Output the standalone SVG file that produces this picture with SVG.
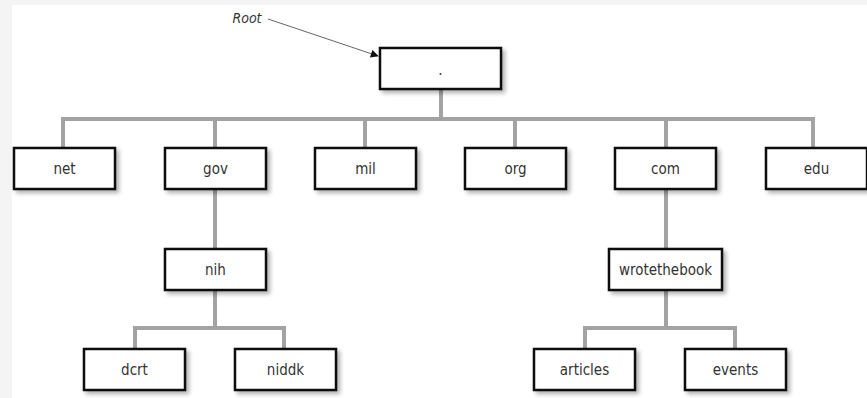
<svg xmlns="http://www.w3.org/2000/svg" width="867" height="398" viewBox="0 0 867 398">
<defs>
<filter id="sh" x="-10%" y="-20%" width="130%" height="160%">
<feGaussianBlur in="SourceAlpha" stdDeviation="2"/>
<feOffset dx="3" dy="3" result="b"/>
<feComponentTransfer><feFuncA type="linear" slope="0.3"/></feComponentTransfer>
<feMerge><feMergeNode/><feMergeNode in="SourceGraphic"/></feMerge>
</filter>
<marker id="ah" viewBox="0 0 10 10" refX="9" refY="5" markerWidth="10" markerHeight="8" markerUnits="userSpaceOnUse" orient="auto">
<path d="M0,0 L10,5 L0,10 z" fill="#111"/>
</marker>
</defs>
<style>
.box{fill:#fff;stroke:#111;stroke-width:2.5}
.lbl{font-family:"DejaVu Sans Condensed","DejaVu Sans","Liberation Sans",sans-serif;font-stretch:condensed;font-size:15px;fill:#333;text-anchor:middle}
.con{fill:none;stroke:#a3a3a3;stroke-width:4}
</style>
<rect x="0" y="0" width="867" height="398" fill="#f4f4f4"/>
<rect x="12" y="5" width="855" height="393" fill="#fff"/>
<g id="connectors">
<path class="con" d="M441,89 V119 M63,150 V119 H813 V150 M215,119 V150 M365,119 V150 M515,119 V150 M666,119 V150"/>
<path class="con" d="M215,189 V249 M215,290 V328 M135,349 V328 H284 V349"/>
<path class="con" d="M666,189 V249 M666,290 V328 M585,349 V328 H735 V349"/>
<path d="M268,19 L378,56" stroke="#666" stroke-width="1" fill="none" marker-end="url(#ah)"/>
</g>
<text x="247" y="23" font-family="'DejaVu Sans Condensed','DejaVu Sans','Liberation Sans',sans-serif" font-stretch="condensed" font-style="italic" font-size="14" fill="#333" text-anchor="middle">Root</text>
<g id="root"><rect class="box" x="380" y="48" width="121" height="41" filter="url(#sh)"/><text class="lbl" x="440.5" y="75">.</text></g>
<g id="net"><rect class="box" x="14" y="148" width="101" height="41" filter="url(#sh)"/><text class="lbl" x="64.5" y="174">net</text></g>
<g id="gov"><rect class="box" x="165" y="148" width="101" height="41" filter="url(#sh)"/><text class="lbl" x="215.5" y="174">gov</text></g>
<g id="mil"><rect class="box" x="315" y="148" width="101" height="41" filter="url(#sh)"/><text class="lbl" x="365.5" y="174">mil</text></g>
<g id="org"><rect class="box" x="465" y="148" width="101" height="41" filter="url(#sh)"/><text class="lbl" x="515.5" y="174">org</text></g>
<g id="com"><rect class="box" x="615" y="148" width="101" height="41" filter="url(#sh)"/><text class="lbl" x="665.5" y="174">com</text></g>
<g id="edu"><rect class="box" x="766" y="148" width="101" height="41" filter="url(#sh)"/><text class="lbl" x="816.5" y="174">edu</text></g>
<g id="nih"><rect class="box" x="165" y="249" width="101" height="41" filter="url(#sh)"/><text class="lbl" x="215.5" y="275">nih</text></g>
<g id="wrotethebook"><rect class="box" x="609" y="249" width="113" height="41" filter="url(#sh)"/><text class="lbl" x="665.5" y="275">wrotethebook</text></g>
<g id="dcrt"><rect class="box" x="84" y="349" width="101" height="41" filter="url(#sh)"/><text class="lbl" x="134.5" y="375">dcrt</text></g>
<g id="niddk"><rect class="box" x="235" y="349" width="101" height="41" filter="url(#sh)"/><text class="lbl" x="285.5" y="375">niddk</text></g>
<g id="articles"><rect class="box" x="534" y="349" width="101" height="41" filter="url(#sh)"/><text class="lbl" x="584.5" y="375">articles</text></g>
<g id="events"><rect class="box" x="685" y="349" width="101" height="41" filter="url(#sh)"/><text class="lbl" x="735.5" y="375">events</text></g>
</svg>
